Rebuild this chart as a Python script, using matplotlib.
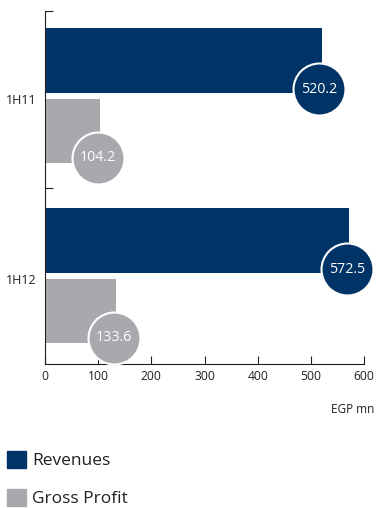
import matplotlib
matplotlib.use('Agg')
import matplotlib.pyplot as plt
from matplotlib.patches import Patch

plt.rcParams['font.family'] = ['Open Sans', 'DejaVu Sans']

# Data
periods = ['1H11', '1H12']
revenues = [520.2, 572.5]
gross_profit = [104.2, 133.6]
series_names = ['Revenues', 'Gross Profit']

navy = '#003466'
grey = '#a7a9ac'
axis_col = '#231f20'

fig = plt.figure(figsize=(3.76, 5.08), dpi=100)
ax = fig.add_axes([45 / 376, 1 - 364 / 508, 319 / 376, 353 / 508])

centers = [1.52, 0.5]
off = 0.2
h = 0.365

for c, rev, gp in zip(centers, revenues, gross_profit):
    ax.barh(c + off, rev, height=h, color=navy, zorder=2)
    ax.barh(c - off, gp, height=h, color=grey, zorder=2)
    # value bubbles sitting on the bottom-right corner of each bar
    for val, y, col in [(rev, c + off - h / 2 + 0.02, navy), (gp, c - off - h / 2 + 0.03, grey)]:
        ax.scatter(val - 4, y, s=1400, color=col, edgecolors='white', linewidths=1.5,
                   zorder=3, clip_on=False)
        ax.text(val - 4, y, f'{val:.1f}', color='white', fontsize=10.3,
                ha='center', va='center', zorder=4)

ax.set_xlim(0, 600)
ax.set_ylim(0, 2)
ax.set_xticks(range(0, 601, 100))
ax.set_yticks([1, 2])
ax.set_yticklabels([])
ax.set_yticks([c - 0.02 for c in centers], labels=periods, minor=True)
ax.tick_params(axis='y', which='minor', length=0, pad=6, labelsize=9, colors=axis_col)
ax.tick_params(axis='y', which='major', direction='in', length=5.5, width=0.8, color=axis_col)
ax.tick_params(axis='x', direction='in', length=5.5, width=0.8, color=axis_col,
               labelsize=8.7, labelcolor=axis_col, pad=4)

for s in ['top', 'right']:
    ax.spines[s].set_visible(False)
for s in ['left', 'bottom']:
    ax.spines[s].set_color(axis_col)
    ax.spines[s].set_linewidth(0.8)

# unit label, kept just inside the right edge
fig.text(374 / 376, 1 - 413 / 508, 'EGP mn', fontsize=8.5, color=axis_col, ha='right', va='baseline')

handles = [Patch(color=navy), Patch(color=grey)]
fig.legend(handles, series_names, loc='upper left', bbox_to_anchor=(0.0, 1 - 444 / 508),
           frameon=False, fontsize=12.5, handlelength=1.1, handleheight=1.1,
           handletextpad=0.35, labelspacing=1.15, borderaxespad=0, borderpad=0.4,
           labelcolor=axis_col)

fig.savefig('out.png', dpi=100)
